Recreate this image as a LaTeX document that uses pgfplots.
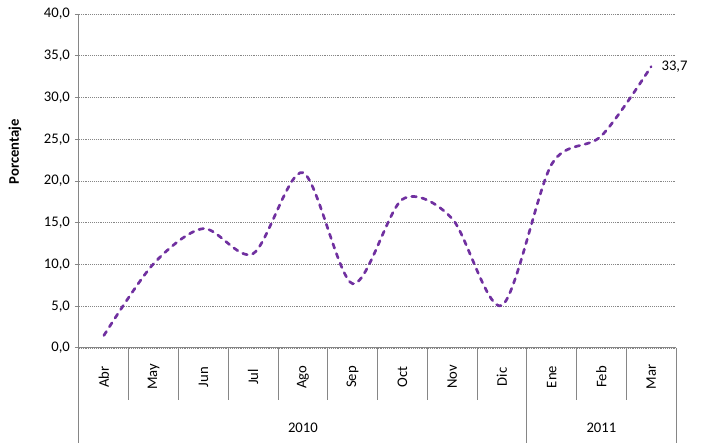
\documentclass[border=0pt]{standalone}
\usepackage{pgfplots}
\pgfplotsset{compat=1.18}
\usepackage{fontspec}
\setmainfont{Carlito}
\definecolor{linea}{HTML}{7030A0}
\definecolor{eje}{HTML}{868686}

\begin{document}
\fontsize{11}{13}\selectfont
\begin{tikzpicture}
\useasboundingbox (-59.25pt,-71.25pt) rectangle (468.75pt,261pt);
\begin{axis}[
    at={(0,0)}, anchor=south west,
    scale only axis,
    width=447.75pt, height=250.5pt,
    xmin=-0.5, xmax=11.5,
    ymin=0, ymax=40,
    clip=false,
    axis x line*=bottom,
    axis y line*=left,
    axis line style={eje, line width=0.75pt},
    ytick={0,5,...,40},
    ymajorgrids,
    grid style={eje, densely dotted, line width=0.6pt},
    tick align=outside,
    major tick length=3pt,
    y tick style={eje, line width=0.75pt},
    x tick style={draw=none},
    /pgf/number format/assume math mode=true,
    yticklabel style={/pgf/number format/.cd, fixed, fixed zerofill, precision=1, use comma},
    xtick={0,...,11},
    xticklabels={Abr,May,Jun,Jul,Ago,Sep,Oct,Nov,Dic,Ene,Feb,Mar},
    xticklabel style={rotate=90, anchor=center},
    xticklabel shift=18.75pt,
    every axis y label/.style={at={(axis description cs:-0.1072,0.587)}, rotate=90, anchor=center, font=\bfseries},
    ylabel={Porcentaje},
  ]

  % serie
  \addplot[linea, line width=2pt, smooth, dash pattern=on 3.5pt off 4.25pt, line cap=round] coordinates {
    (0,1.5) (1,10.1) (2,14.3) (3,11.3) (4,21.0) (5,7.7)
    (6,17.8) (7,15.5) (8,5.1) (9,22.0) (10,25.4) (11,33.7)
  };
  \node[anchor=west, xshift=4pt] at (axis cs:11,33.7) {33,7};

  % separadores de categorias
  \pgfplotsinvokeforeach{0.5,1.5,2.5,3.5,4.5,5.5,6.5,7.5,9.5,10.5}{
    \draw[eje, line width=0.75pt] (axis cs:#1,0) -- ([yshift=-39pt]axis cs:#1,0);
  }
  \pgfplotsinvokeforeach{-0.5,8.5,11.5}{
    \draw[eje, line width=0.75pt] (axis cs:#1,0) -- ([yshift=-71.25pt]axis cs:#1,0);
  }
  \node at ([yshift=-60pt]axis cs:4,0) {2010};
  \node at ([yshift=-60pt]axis cs:10,0) {2011};
\end{axis}
\end{tikzpicture}
\end{document}
